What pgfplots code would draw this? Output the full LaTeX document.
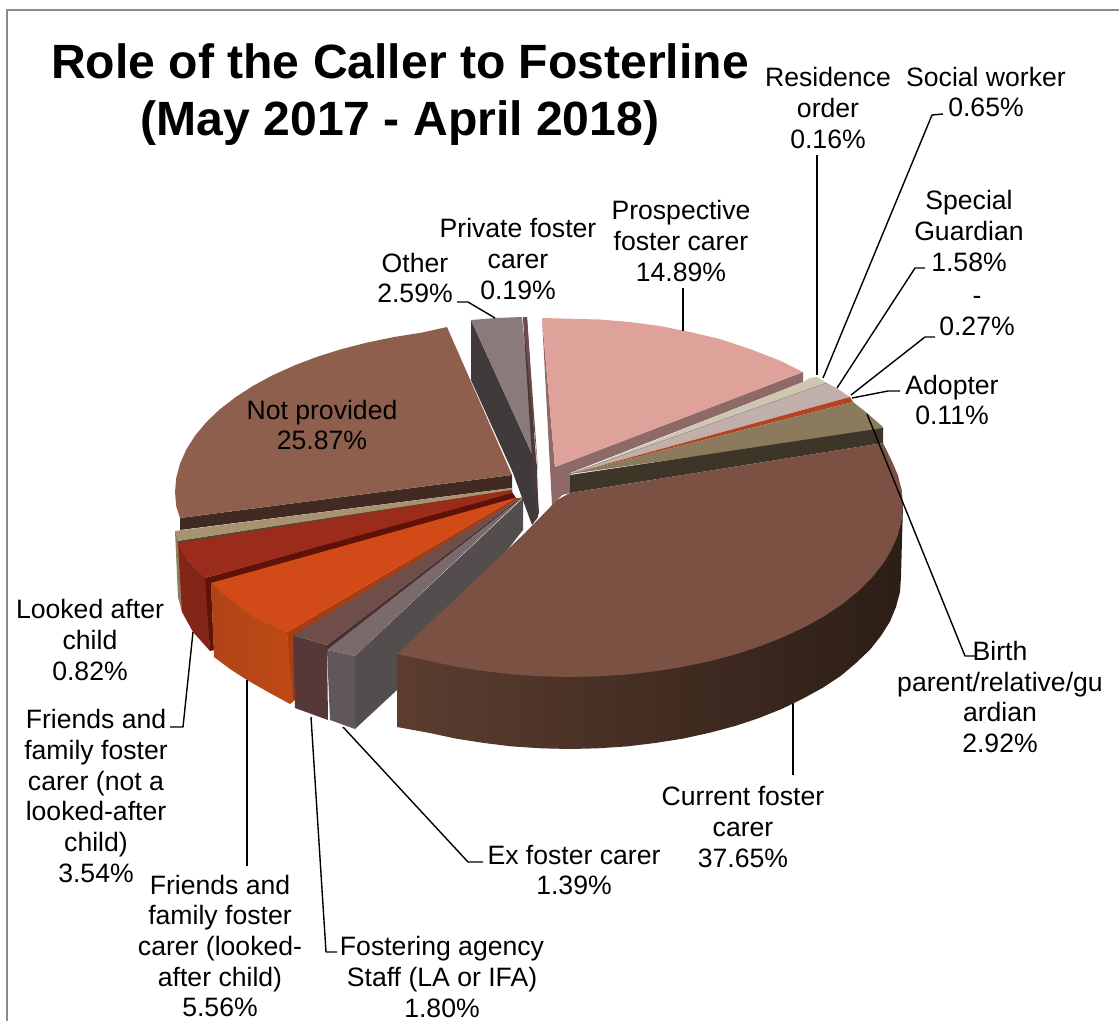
\documentclass[border=0pt]{standalone}
\usepackage{pgfplots}
\pgfplotsset{compat=1.18}
\usepackage{fontspec}
\setmainfont{Liberation Sans}
\definecolor{frameg}{HTML}{8A8A8A}
\definecolor{npTop}{HTML}{8E5F4D}
\definecolor{npSide}{HTML}{402A22}
\definecolor{otTop}{HTML}{8B7A7C}
\definecolor{otSide}{HTML}{403A3A}
\definecolor{prTop}{HTML}{6E4C4C}
\definecolor{prSide}{HTML}{4A3A3A}
\definecolor{psTop}{HTML}{DFA29B}
\definecolor{psSide}{HTML}{8D6A68}
\definecolor{roTop}{HTML}{CFC6B2}
\definecolor{swLine}{HTML}{7B7A66}
\definecolor{sgTop}{HTML}{C0AFAB}
\definecolor{dashTop}{HTML}{B5431F}
\definecolor{bpTop}{HTML}{8C7A5C}
\definecolor{bpSide}{HTML}{3D3527}
\definecolor{cfTop}{HTML}{7B5143}
\definecolor{cfL}{HTML}{5C3D30}
\definecolor{cfM}{HTML}{3F2A20}
\definecolor{cfR}{HTML}{2C1E16}
\definecolor{lcTop}{HTML}{A89270}
\definecolor{lcSide}{HTML}{4A4A30}
\definecolor{fnTop}{HTML}{9B2C1C}
\definecolor{fnFront}{HTML}{832517}
\definecolor{fnSide}{HTML}{5E1208}
\definecolor{flTop}{HTML}{D24A17}
\definecolor{flL}{HTML}{B04417}
\definecolor{flR}{HTML}{BE4A14}
\definecolor{flSide}{HTML}{A93C10}
\definecolor{faTop}{HTML}{6F4D48}
\definecolor{faFront}{HTML}{553837}
\definecolor{faSide}{HTML}{4A3030}
\definecolor{exTop}{HTML}{7A6A6C}
\definecolor{exFront}{HTML}{5F5759}
\definecolor{exSide}{HTML}{544D4E}
\newcommand{\lab}[3]{\node[align=center,inner sep=0pt,font=\fontsize{26.6}{30.7}\selectfont] at (axis cs:#1,#2) {#3};}
\begin{document}
\begin{tikzpicture}[x=1pt,y=1pt]
\path[use as bounding box] (0,0) rectangle (1119,1021);
\begin{axis}[
  at={(0,0)},anchor=south west,
  scale only axis,width=1119pt,height=1021pt,
  xmin=0,xmax=1119,ymin=0,ymax=1021,y dir=reverse,
  axis lines=none,clip=false,no markers,
  every axis plot/.append style={forget plot,line join=round},
]
% outer frame of the chart area
\addplot[draw=frameg,line width=2pt] coordinates {(6.5,1021)(6.5,10)(1119,10)};

% Other
\addplot[fill=otSide,draw=none] coordinates {(471,320)(537,465)(538,517)(532,525)(513,473)(471,380)} -- cycle;
\addplot[fill=otTop,draw=none] coordinates {(471,320)(496,318)(522,317)(537,465)} -- cycle;
% Private foster carer
\addplot[fill=prSide,draw=none] coordinates {(523,317)(527,317)(539,513)(536,520)} -- cycle;
\addplot[fill=prTop,draw=none] coordinates {(523,317)(527,317)(538,470)} -- cycle;
% Prospective foster carer
\addplot[fill=psSide,draw=none] coordinates {(542,318)(555,467)(803,372)(803,382)(570,473)(570,493)(562,495)(552,505)} -- cycle;
\addplot[fill=psTop,draw=none] coordinates {(542,318)(570,318.7)(600,319.5)(630,322)(660,326)(690,332)(720,339)(750,349)(780,360.6)(803,372)(555,467)} -- cycle;
% Residence order and social worker
\addplot[fill=roTop,draw=none] coordinates {(570,474)(803,382)(810,378)(817,377)(827,383)} -- cycle;
\addplot[draw=swLine,line width=0.8pt] coordinates {(570,474)(827,383)};
% Special Guardian
\addplot[fill=sgTop,draw=none] coordinates {(570,474)(827,383)(838,389)(850,397)} -- cycle;
% unnamed category
\addplot[fill=dashTop,draw=none] coordinates {(570,474)(850,397)(853,402)} -- cycle;
% Birth parent
\addplot[fill=bpTop,draw=none] coordinates {(570,474)(853,402)(867,413)(883,427)(883,430)} -- cycle;
\addplot[fill=bpSide,draw=none] coordinates {(570,475)(883,428)(883,443)(570,493)} -- cycle;

% Ex foster carer
\addplot[fill=exSide,draw=none] coordinates {(355,656)(523,498)(523,530)(397,690)(355,729)} -- cycle;
\addplot[fill=exTop,draw=none] coordinates {(523,497)(327,650)(355,656)} -- cycle;
\addplot[fill=exFront,draw=none] coordinates {(327,650)(330,720)(355,729)(355,656)} -- cycle;

% Current foster carer
\addplot[left color=cfL,middle color=cfM,right color=cfR,draw=none] coordinates {(397,654)(397,727)(429.3,732.9)(456,738.6)(484,743)(512,746.4)(541,748.3)(570,749)(598,748.3)(627,746.4)(655,743)(683,738.6)(709,732.9)(735,726)(759,718)(782,708.8)(803,698.6)(823,687.6)(841,675.7)(856,663)(870,649.7)(881,635.8)(890,621.5)(896,606.9)(900,592)(901,577)(902,540)(903,505)} -- cycle;
\addplot[fill=cfTop,draw=none] coordinates {(397,654)(525,533)(557,500)(570,493)(882.9,443)(891.6,460.5)(897.9,475.1)(901.7,490)(903,505)(901.7,520)(897.9,534.9)(891.6,549.5)(882.9,563.8)(871.8,577.7)(858.4,591)(842.8,603.7)(825.1,615.6)(805.5,626.6)(784,636.8)(761,645.9)(736.5,654)(710.7,660.9)(683.9,666.6)(656.2,671.1)(627.8,674.4)(599,676.3)(570,677)(541,676.3)(512.2,674.4)(483.8,671.1)(456.1,666.6)(429.3,660.9)} -- cycle;

% Not provided
\addplot[fill=npSide,draw=none] coordinates {(180,518)(180,530)(512,488)(512,475)} -- cycle;
\addplot[fill=npTop,draw=none] coordinates {(512,475)(447,327)(421.8,332.6)(394.1,337)(367.3,342.5)(341.5,349.1)(317,356.8)(294,365.6)(272.5,375.3)(252.9,385.9)(235.2,397.4)(219.6,409.5)(206.2,422.3)(195.1,435.6)(186.4,449.3)(180.1,463.4)(176.3,477.6)(175,492)(176.3,506.4)(180,518)} -- cycle;

% Looked after child
\addplot[fill=lcSide,draw=none] coordinates {(177,541)(512,489)(512,493)(178,545)} -- cycle;
\addplot[fill=lcTop,draw=none] coordinates {(175,531)(177,541)(512,490)(512,488)} -- cycle;
\addplot[fill=lcTop!85!black,draw=none] coordinates {(175,531)(178,597)(182,612)(186,612)(178,543)} -- cycle;
% Friends and family foster carer (not a looked-after child)
\addplot[fill=fnFront,draw=none] coordinates {(178,543)(182,612)(193,632)(210,651)(207,579)(196,569)(188,560)} -- cycle;
\addplot[fill=fnSide,draw=none] coordinates {(205,578)(512,492)(516,498)(211,584)(214,650)(210,651)} -- cycle;
\addplot[fill=fnTop,draw=none] coordinates {(178,543)(182,551)(188,560)(196,569)(205,578)(512,493)(512,490)} -- cycle;
% Friends and family foster carer (looked-after child)
\addplot[fill=flSide,draw=none] coordinates {(287,632)(515,498)(520,498)(295,636)(295,700)(290,704)} -- cycle;
\addplot[left color=flL,right color=flR,draw=none] coordinates {(211,583)(214,657)(230,669)(247,680)(268,692)(290,704)(293,700)(287,632)} -- cycle;
\addplot[fill=flTop,draw=none] coordinates {(515,498)(211,583)(219,590)(227,597)(240,607)(253,617)(270,625)(287,632)} -- cycle;
% Fostering agency staff
\addplot[fill=faSide,draw=none] coordinates {(327,645)(520,498)(523,497)(327,650)} -- cycle;
\addplot[fill=faFront,draw=none] coordinates {(293,635)(295,708)(328,720)(327,645)} -- cycle;
\addplot[fill=faTop,draw=none] coordinates {(520,498)(293,635)(310,640)(327,645)} -- cycle;

% leader lines
\addplot[black,line width=1.4pt] coordinates {(817,155)(817,375)};
\addplot[black,line width=1.4pt] coordinates {(943,114)(932,115)(823,378)};
\addplot[black,line width=1.4pt] coordinates {(925,268)(915,268)(837,388)};
\addplot[black,line width=1.4pt] coordinates {(935,337)(925,337)(851,395)};
\addplot[black,line width=1.4pt] coordinates {(900,391)(888,391)(852,398)};
\addplot[black,line width=1.4pt] coordinates {(867,414)(965,656)(975,656)};
\addplot[black,line width=1.4pt] coordinates {(793,703)(793,775)};
\addplot[black,line width=1.4pt] coordinates {(343,727)(468,862)(483,862)};
\addplot[black,line width=1.4pt] coordinates {(311,717)(326,952)(337,952)};
\addplot[black,line width=1.4pt] coordinates {(247,680)(247,866)};
\addplot[black,line width=1.4pt] coordinates {(193,632)(183,727)(170,727)};
\addplot[black,line width=1.4pt] coordinates {(457,302)(468,302)(495,318)};
\addplot[black,line width=1.4pt] coordinates {(683,331)(683,288)};

% title
\node[align=center,inner sep=0pt,font=\fontsize{48.1}{57}\selectfont\bfseries] at (axis cs:400,94.5) {Role of the Caller to Fosterline\\(May 2017 - April 2018)};

% data labels
\lab{828}{108}{Residence\\order\\0.16\%}
\lab{986}{92}{Social worker\\0.65\%}
\lab{969}{231}{Special\\Guardian\\1.58\%}
\lab{977}{316}{-\\0.27\%}
\lab{952}{400}{Adopter\\0.11\%}
\lab{681}{241}{Prospective\\foster carer\\14.89\%}
\lab{518}{259}{Private foster\\carer\\0.19\%}
\lab{415}{278}{Other\\2.59\%}
\lab{322}{425}{Not provided\\25.87\%}
\lab{90}{640}{Looked after\\child\\0.82\%}
\lab{96}{796}{Friends and\\family foster\\carer (not a\\looked-after\\child)\\3.54\%}
\lab{220}{946}{Friends and\\family foster\\carer (looked-\\after child)\\5.56\%}
\lab{442}{977}{Fostering agency\\Staff (LA or IFA)\\1.80\%}
\lab{574}{870}{Ex foster carer\\1.39\%}
\lab{743}{827}{Current foster\\carer\\37.65\%}
\lab{1000}{697}{Birth\\parent/relative/gu\\ardian\\2.92\%}
\end{axis}
\end{tikzpicture}
\end{document}
